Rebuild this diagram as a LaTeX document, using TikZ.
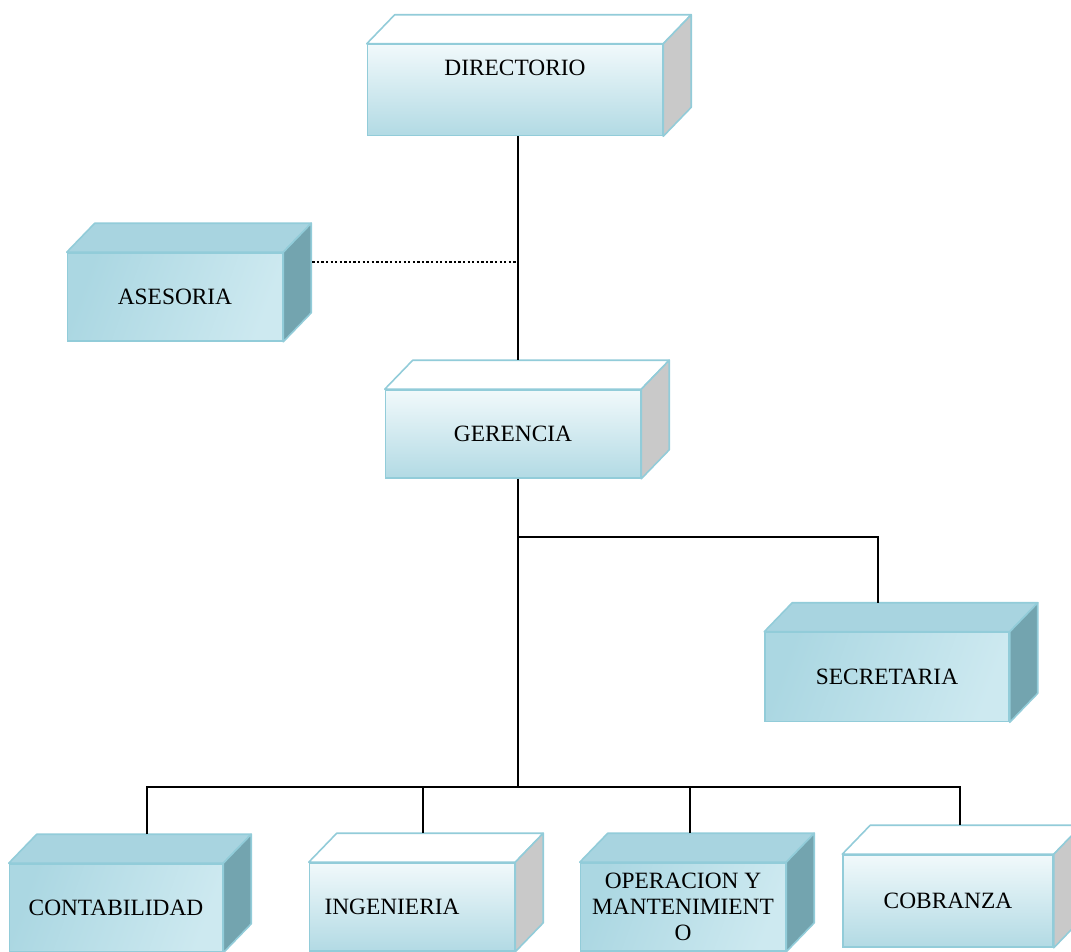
\documentclass[tikz,border=0pt]{standalone}
\usepackage{fontspec}
\setmainfont{Liberation Serif}
\usetikzlibrary{calc, positioning}

\definecolor{borde}{HTML}{92CCD9}
\definecolor{claraA}{HTML}{F1F9FB}
\definecolor{claraB}{HTML}{B2DAE4}
\definecolor{gris}{HTML}{C9C9C9}
\definecolor{oscA}{HTML}{ABD7E2}
\definecolor{oscB}{HTML}{E6F4F8}
\definecolor{oscC}{HTML}{CDE9F0}
\definecolor{tapa}{HTML}{A8D4E0}
\definecolor{lado}{HTML}{73A4AF}

\tikzset{
  caja/.style={draw=borde, line width=0.9pt, inner sep=2pt, align=center,
    font=\fontsize{13.3}{15}\selectfont},
  clara/.style={caja, top color=claraA, bottom color=claraB},
  oscura/.style={caja, left color=oscA, middle color=oscB, right color=oscC, shading angle=70},
  clara top/.style={fill=white, draw=borde, line width=0.9pt, line join=round},
  clara side/.style={fill=gris, draw=borde, line width=0.9pt, line join=round},
  oscura top/.style={fill=tapa, draw=borde, line width=0.9pt, line join=round},
  oscura side/.style={fill=lado, draw=borde, line width=0.9pt, line join=round},
  enlace/.style={draw=black, line width=0.9pt},
}

\begin{document}
\begin{tikzpicture}[x=0.02cm, y=-0.02cm]
  \useasboundingbox[fill=white] (0,0) rectangle (1071,952);

  % front faces
  \node[clara, minimum width=5.9cm, minimum height=1.82cm, text depth=0.9cm] (dir) at (515,90) {DIRECTORIO};
  \node[oscura, minimum width=4.3cm, minimum height=1.76cm] (ase) at (175,297) {ASESORIA};
  \node[clara, minimum width=5.1cm, minimum height=1.76cm] (ger) at (513,434) {GERENCIA};
  \node[oscura, minimum width=4.88cm, minimum height=1.78cm] (sec) at (887,677) {SECRETARIA};
  \node[oscura, minimum width=4.26cm, minimum height=1.76cm] (con) at (116,908) {CONTABILIDAD};
  \node[clara, minimum width=4.1cm, minimum height=1.76cm, text width=3.5cm, align=left] (ing) at (412,907) {INGENIERIA};
  \node[oscura, minimum width=4.1cm, minimum height=1.76cm] (ope) at (683,907) {OPERACION Y\\MANTENIMIENT\\O};
  \node[clara, minimum width=4.2cm, minimum height=1.84cm] (cob) at (948,901) {COBRANZA};

  % top and side faces
  \foreach \n/\k in {dir/clara, ase/oscura, ger/clara, sec/oscura, con/oscura, ing/clara, ope/oscura, cob/clara}{
    \filldraw[\k\space top] (\n.north west) -- ++(28,-29) -- ($(\n.north east)+(28,-29)$) -- (\n.north east) -- cycle;
    \filldraw[\k\space side] (\n.north east) -- ++(28,-29) -- ($(\n.south east)+(28,-29)$) -- (\n.south east) -- cycle;
  }

  % connection points
  \coordinate (gerin) at ($(ger.north)+(5,-29)$);
  \coordinate (secin) at ($(sec.north)+(-9,-29)$);
  \coordinate (conin) at ($(con.north)+(31,-29)$);
  \coordinate (ingin) at ($(ing.north)+(11,-29)$);
  \coordinate (opein) at ($(ope.north)+(7,-29)$);
  \coordinate (cobin) at ($(cob.north)+(12,-29)$);
  \coordinate (rama) at (518,537);
  \coordinate (bus) at (518,787);
  \coordinate (aseout) at ($(ase.north east)+(29,10)$);

  \draw[enlace] (dir.south -| bus) -- (gerin -| bus);
  \draw[enlace, dash pattern=on 1.3pt off 1.3pt] (aseout) -- (aseout -| bus);
  \draw[enlace] (ger.south -| bus) -- (bus);
  \draw[enlace] (rama) -| (secin);
  \draw[enlace] (conin) |- (bus) -| (cobin);
  \draw[enlace] (ingin) -- (ingin |- bus);
  \draw[enlace] (opein) -- (opein |- bus);
\end{tikzpicture}
\end{document}
